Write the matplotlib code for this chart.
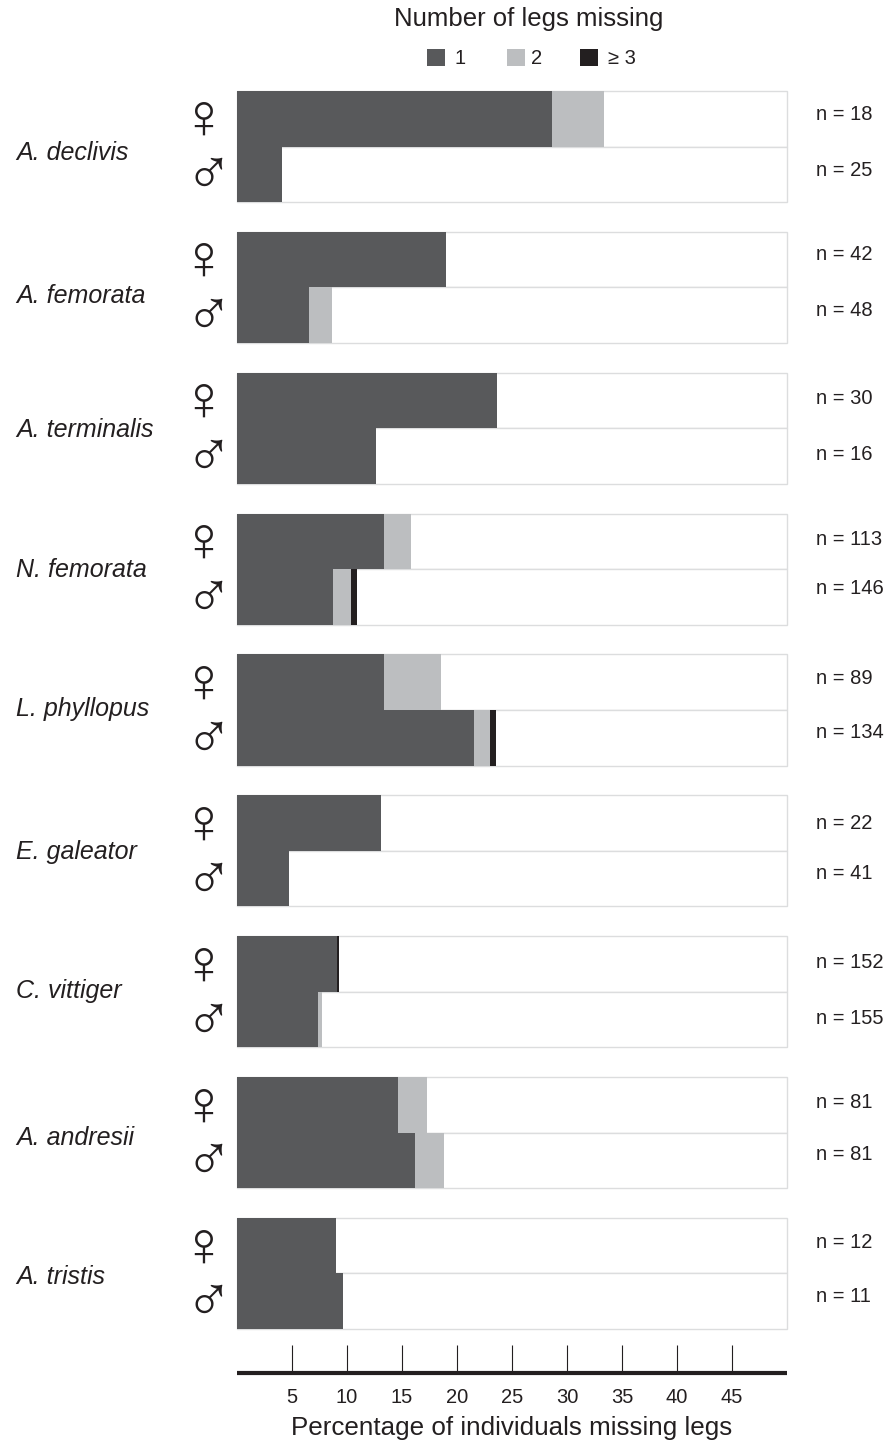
import matplotlib
matplotlib.use('Agg')
import matplotlib.pyplot as plt
from matplotlib.patches import Rectangle

plt.rcParams['font.family'] = ['Liberation Sans', 'DejaVu Sans']

# DATA

species = ['A. declivis', 'A. femorata', 'A. terminalis', 'N. femorata', 'L. phyllopus',
           'E. galeator', 'C. vittiger', 'A. andresii', 'A. tristis']

f_one = [28.6, 19.0, 23.6, 13.4, 13.4, 13.1, 9.1, 14.6, 9.0]
f_two = [4.8, 0, 0, 2.4, 5.1, 0, 0, 2.7, 0]
f_three = [0, 0, 0, 0, 0, 0, 0.2, 0, 0]

m_one = [4.1, 6.5, 12.6, 8.7, 21.5, 4.7, 7.4, 16.2, 9.6]
m_two = [0, 2.1, 0, 1.7, 1.5, 0, 0.3, 2.6, 0]
m_three = [0, 0, 0, 0.5, 0.5, 0, 0, 0, 0]

f_n = [18, 42, 30, 113, 89, 22, 152, 81, 12]
m_n = [25, 48, 16, 146, 134, 41, 155, 81, 11]

ticks = [5, 10, 15, 20, 25, 30, 35, 40, 45]
legend_labels = ['1', '2', '≥ 3']

# LAYOUT (pixels)

W, H = 888, 1441
dark, light, black = '#58595b', '#bcbec0', '#231f20'
box = '#dcddde'

species_y = [153, 296, 430, 570, 709, 852, 991, 1138, 1277]
f_n_y = [115, 255, 398, 539, 679, 823, 962, 1102, 1242]
m_n_y = [170, 311, 454, 589, 733, 873, 1018, 1154, 1297]

fig = plt.figure(figsize=(W / 100, H / 100), dpi=100)


def put(x, y, s, **kw):
    kw.setdefault('color', black)
    kw.setdefault('va', 'center')
    fig.text(x / W, 1 - y / H, s, **kw)


# BARS

ax = fig.add_axes([237 / W, 1 - 1329 / H, 550 / W, 1238 / H])
ax.set_xlim(0, 50)
ax.set_ylim(8.788, 0)
ax.axis('off')

h = 0.394
for i in range(len(species)):
    for y, a, b, c in [(i, f_one[i], f_two[i], f_three[i]),
                       (i + h, m_one[i], m_two[i], m_three[i])]:
        ax.barh(y, 50, height=h, align='edge', color='white', edgecolor=box, linewidth=1.0, clip_on=False)
        ax.barh(y, a, height=h, align='edge', color=dark, linewidth=0, zorder=3)
        ax.barh(y, b, left=a, height=h, align='edge', color=light, linewidth=0, zorder=3)
        ax.barh(y, c, left=a + b, height=h, align='edge', color=black, linewidth=0, zorder=3)

# AXIS AT THE BOTTOM

ax2 = fig.add_axes([237 / W, 1 - 1373 / H, 550 / W, 30 / H])
ax2.set_xlim(0, 50)
ax2.patch.set_visible(False)
ax2.set_yticks([])
for s in ['top', 'left', 'right']:
    ax2.spines[s].set_visible(False)
ax2.spines['bottom'].set_linewidth(3.0)
ax2.spines['bottom'].set_color(black)
ax2.spines['bottom'].set_capstyle('butt')
ax2.set_xticks(ticks)
ax2.set_xticklabels([str(t) for t in ticks], fontsize=14.5, color=black)
ax2.tick_params(axis='x', direction='in', length=20, width=0.8, color=black, pad=10.5)
ax2.set_xlabel('Percentage of individuals missing legs', fontsize=18.7, color=black, labelpad=7)

# LABELS

for i, name in enumerate(species):
    put(16, species_y[i], name, fontsize=18, style='italic')
    put(816, f_n_y[i], 'n = %d' % f_n[i], fontsize=14.5)
    put(816, m_n_y[i], 'n = %d' % m_n[i], fontsize=14.5)
    top = 91 + i * 140.9
    put(203, top + 30, '♀', fontsize=46, ha='center', family='Liberation Sans')
    put(208, top + 86, '♂', fontsize=46, ha='center', family='Liberation Sans')

# LEGEND

put(529, 19, 'Number of legs missing', fontsize=18.5, ha='center')
for x, x_text, col, lab in zip([427, 507, 580], [454, 531, 608], [dark, light, black], legend_labels):
    fig.patches.append(Rectangle((x / W, 1 - 66 / H), 18 / W, 17 / H, color=col,
                                 transform=fig.transFigure, linewidth=0))
    put(x_text, 58, lab, fontsize=14.5)

fig.savefig('out.png', dpi=100)
